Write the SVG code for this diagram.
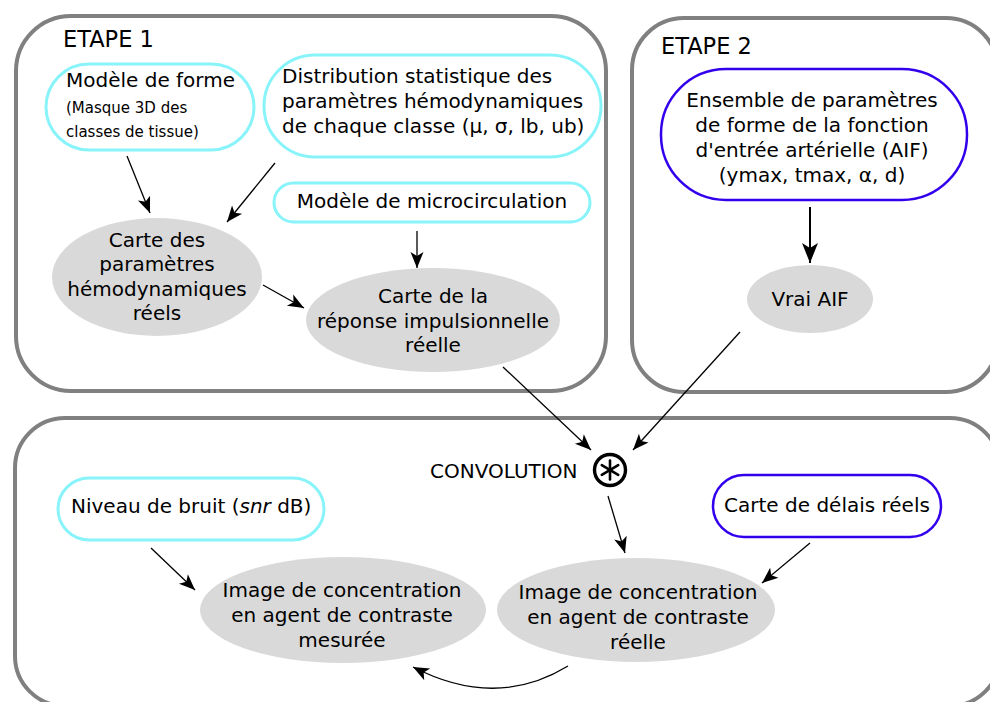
<svg xmlns="http://www.w3.org/2000/svg" width="990" height="702" viewBox="0 0 990 702">
<defs>
<style>
text{font-family:"DejaVu Sans","Liberation Sans",sans-serif;font-size:20px;fill:#000}
.c{text-anchor:middle}
.box{fill:none;stroke:#808080;stroke-width:4}
.cy{fill:#fff;stroke:#88f4fa;stroke-width:3}
.bl{fill:#fff;stroke:#3300ee;stroke-width:2.5}
.el{fill:#d9d9d9;stroke:none}
.ln{fill:none;stroke:#000;stroke-width:1.3;marker-end:url(#ah)}
.big{font-size:22.5px}
.sm{font-size:15px}
</style>
<marker id="ah" viewBox="-17 -8 18 16" refX="0" refY="0" markerWidth="18" markerHeight="16" markerUnits="userSpaceOnUse" orient="auto">
<path d="M0,0 L-16,-6.5 L-12,0 L-16,6.5 Z" fill="#000"/>
</marker>
<marker id="ah2" viewBox="-21 -9 22 18" refX="0" refY="0" markerWidth="22" markerHeight="18" markerUnits="userSpaceOnUse" orient="auto">
<path d="M0,0 L-20,-8 L-15,0 L-20,8 Z" fill="#000"/>
</marker>
</defs>

<g id="etape1">
<rect class="box" x="16" y="16" width="590" height="375" rx="55"/>
<text class="big" x="63" y="47">ETAPE 1</text>
</g>
<g id="etape2">
<rect class="box" x="632" y="18" width="366" height="374" rx="52"/>
<text class="big" x="661" y="54">ETAPE 2</text>
</g>
<g id="etape3">
<rect class="box" x="15" y="418" width="985" height="288" rx="50"/>
</g>

<g id="modele-forme">
<rect class="cy" x="46" y="64" width="208" height="86" rx="43"/>
<text x="66" y="87">Modèle de forme</text>
<text class="sm" x="66" y="113">(Masque 3D des</text>
<text class="sm" x="66" y="137">classes de tissue)</text>
</g>

<g id="distribution">
<rect class="cy" x="264" y="55" width="337" height="102" rx="51"/>
<text x="282" y="83">Distribution statistique des</text>
<text x="282" y="108">paramètres hémodynamiques</text>
<text x="282" y="133">de chaque classe (μ, σ, lb, ub)</text>
</g>

<g id="microcirculation">
<rect class="cy" x="274" y="183" width="316" height="39" rx="19.5"/>
<text class="c" x="432" y="208">Modèle de microcirculation</text>
</g>

<g id="carte-parametres">
<ellipse class="el" cx="157" cy="277" rx="105" ry="59"/>
<text class="c" x="157" y="247">Carte des</text>
<text class="c" x="157" y="271">paramètres</text>
<text class="c" x="157" y="296">hémodynamiques</text>
<text class="c" x="157" y="320">réels</text>
</g>

<g id="carte-reponse">
<ellipse class="el" cx="433" cy="320" rx="127" ry="52"/>
<text class="c" x="433" y="303">Carte de la</text>
<text class="c" x="433" y="328">réponse impulsionnelle</text>
<text class="c" x="433" y="352">réelle</text>
</g>

<g id="ensemble-aif">
<rect class="bl" x="661" y="69" width="306" height="131" rx="65"/>
<text class="c" x="812" y="107">Ensemble de paramètres</text>
<text class="c" x="812" y="132">de forme de la fonction</text>
<text class="c" x="812" y="157">d'entrée artérielle (AIF)</text>
<text class="c" x="812" y="182">(ymax, tmax, α, d)</text>
</g>

<g id="vrai-aif">
<ellipse class="el" cx="810" cy="299" rx="63" ry="34"/>
<text class="c" x="810" y="306">Vrai AIF</text>
</g>

<g id="convolution">
<text x="430" y="478">CONVOLUTION</text>
<circle cx="610" cy="470" r="15.5" fill="#fff" stroke="#000" stroke-width="3.4"/>
<g stroke="#000" stroke-width="2.6" stroke-linecap="round">
<line x1="610" y1="460.5" x2="610" y2="479.5"/>
<line x1="601.8" y1="465.2" x2="618.2" y2="474.8"/>
<line x1="601.8" y1="474.8" x2="618.2" y2="465.2"/>
</g>
</g>

<g id="bruit">
<rect class="cy" x="58" y="478" width="266" height="62" rx="31"/>
<text x="71" y="513">Niveau de bruit (<tspan font-style="italic">snr</tspan> dB)</text>
</g>

<g id="delais">
<rect class="bl" x="713" y="475" width="228" height="62" rx="31"/>
<text class="c" x="827" y="512">Carte de délais réels</text>
</g>

<g id="image-mesuree">
<ellipse class="el" cx="343" cy="610" rx="143" ry="53"/>
<text class="c" x="342" y="597">Image de concentration</text>
<text class="c" x="342" y="622">en agent de contraste</text>
<text class="c" x="342" y="647">mesurée</text>
</g>

<g id="image-reelle">
<ellipse class="el" cx="636" cy="610" rx="139" ry="52"/>
<text class="c" x="638" y="599">Image de concentration</text>
<text class="c" x="638" y="624">en agent de contraste</text>
<text class="c" x="638" y="649">réelle</text>
</g>

<g id="connectors">
<line class="ln" x1="127" y1="156" x2="150" y2="213"/>
<line class="ln" x1="275" y1="163" x2="227" y2="222"/>
<line class="ln" x1="417" y1="231" x2="417" y2="268"/>
<line class="ln" x1="263" y1="285" x2="304" y2="308"/>
<line class="ln" x1="503" y1="367" x2="591" y2="450"/>
<line class="ln" x1="740" y1="332" x2="633" y2="450"/>
<line x1="810" y1="207" x2="810" y2="263" stroke="#000" stroke-width="2" marker-end="url(#ah2)"/>
<line class="ln" x1="608" y1="496" x2="625" y2="553"/>
<line class="ln" x1="151" y1="548" x2="195" y2="590"/>
<line class="ln" x1="810" y1="543" x2="762" y2="583"/>
<path class="ln" d="M568,666 Q496,710 413,667"/>
</g>
</svg>
